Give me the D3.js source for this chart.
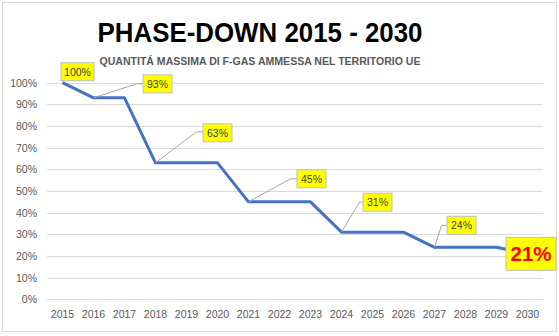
<!DOCTYPE html>
<html><head><meta charset="utf-8">
<script src="https://cdn.jsdelivr.net/npm/d3@7"></script>
<style>body{margin:0;background:#fff}svg{display:block}</style>
</head><body><svg id="c" width="559" height="336"></svg>
<script>
const years = ["2015","2016","2017","2018","2019","2020","2021","2022","2023","2024","2025","2026","2027","2028","2029","2030"];
const values = [100,93,93,63,63,63,45,45,45,31,31,31,24,24,24,21];
const yTicks = [0,10,20,30,40,50,60,70,80,90,100];
const labelYears = ["2015","2016","2018","2021","2024","2027","2030"];
const titleText = "PHASE-DOWN 2015 - 2030";
const subtitleText = "QUANTITÁ MASSIMA DI F-GAS AMMESSA NEL TERRITORIO UE";

// label layout: box centre offset from the point, leader elbow offset
const labelLayout = [
  {dx:15, dy:-11, elbow:null},
  {dx:64, dy:-14, elbow:[43,-14]},
  {dx:62, dy:-30, elbow:[41,-31]},
  {dx:63, dy:-23, elbow:[42,-23]},
  {dx:36, dy:-30, elbow:[18,-30]},
  {dx:27, dy:-22, elbow:[7,-22]},
  {dx:3.5, dy:0, elbow:null, big:true}
];

const svg = d3.select("#c");
const F = "'Liberation Sans', Arial, sans-serif";
svg.append("rect").attr("x",2.5).attr("y",2.5).attr("width",554).attr("height",329)
  .attr("fill","#fff").attr("stroke","#d9d9d9").attr("stroke-width",1);

const x = d3.scaleBand().domain(years).range([47,543]);
const y = d3.scaleLinear().domain([0,100]).range([299.3,82.7]);

// gridlines
svg.append("g").selectAll("line").data(yTicks).join("line")
  .attr("x1",47).attr("x2",543)
  .attr("y1",d=>Math.round(y(d))+0.5).attr("y2",d=>Math.round(y(d))+0.5)
  .attr("stroke","#d9d9d9").attr("stroke-width",1);

// y labels
svg.append("g").selectAll("text").data(yTicks).join("text")
  .attr("x",37).attr("y",d=>y(d)+4)
  .attr("text-anchor","end").attr("font-family",F).attr("font-size",10.5)
  .attr("fill","#595959").text(d=>d+"%");

// x labels
svg.append("g").selectAll("text").data(years).join("text")
  .attr("x",d=>x(d)+x.bandwidth()/2).attr("y",318)
  .attr("text-anchor","middle").attr("font-family",F).attr("font-size",10.5)
  .attr("fill","#595959").text(d=>d);

// title
svg.append("text").attr("x",260).attr("y",42).attr("text-anchor","middle")
  .attr("font-family",F).attr("font-weight","bold").attr("font-size",27)
  .attr("textLength",325).attr("lengthAdjust","spacingAndGlyphs")
  .attr("fill","#000").text(titleText);
svg.append("text").attr("x",260).attr("y",64.5).attr("text-anchor","middle")
  .attr("font-family",F).attr("font-weight","bold").attr("font-size",10.5)
  .attr("textLength",321).attr("lengthAdjust","spacingAndGlyphs")
  .attr("fill","#595959").text(subtitleText);

// line
const pts = years.map((yr,i)=>[x(yr)+x.bandwidth()/2, y(values[i])]);
svg.append("path").attr("d",d3.line()(pts)).attr("fill","none")
  .attr("stroke","#4472C4").attr("stroke-width",3).attr("stroke-linejoin","round");

// labels
const lg = svg.append("g");
labelYears.forEach((yr,k)=>{
  const i = years.indexOf(yr);
  const px = x(yr)+x.bandwidth()/2, py = y(values[i]);
  const L = labelLayout[k];
  const cx = px+L.dx, cy = py+L.dy;
  const w = L.big?50:(values[i]>=100?33:29), h = L.big?33:18;
  if (L.elbow){
    const ex = px+L.elbow[0], ey = py+L.elbow[1];
    lg.append("path").attr("d",`M${px},${py}L${ex},${ey}L${cx-w/2},${ey}`)
      .attr("fill","none").attr("stroke","#a6a6a6").attr("stroke-width",1);
  }
  lg.append("rect").attr("x",cx-w/2).attr("y",cy-h/2).attr("width",w).attr("height",h)
    .attr("fill","#ffff00").attr("stroke","#bfbfbf").attr("stroke-width",1);
  const t = lg.append("text").attr("x",cx).attr("y",L.big?cy+7.5:cy+4)
    .attr("text-anchor","middle").attr("font-family",F)
    .attr("font-size",L.big?21:10.5).attr("font-weight",L.big?"bold":"normal")
    .attr("fill",L.big?"#ff0000":"#404040").text(values[i]+"%");
  if (L.big) t.attr("textLength",41).attr("lengthAdjust","spacingAndGlyphs");
});
</script></body></html>
